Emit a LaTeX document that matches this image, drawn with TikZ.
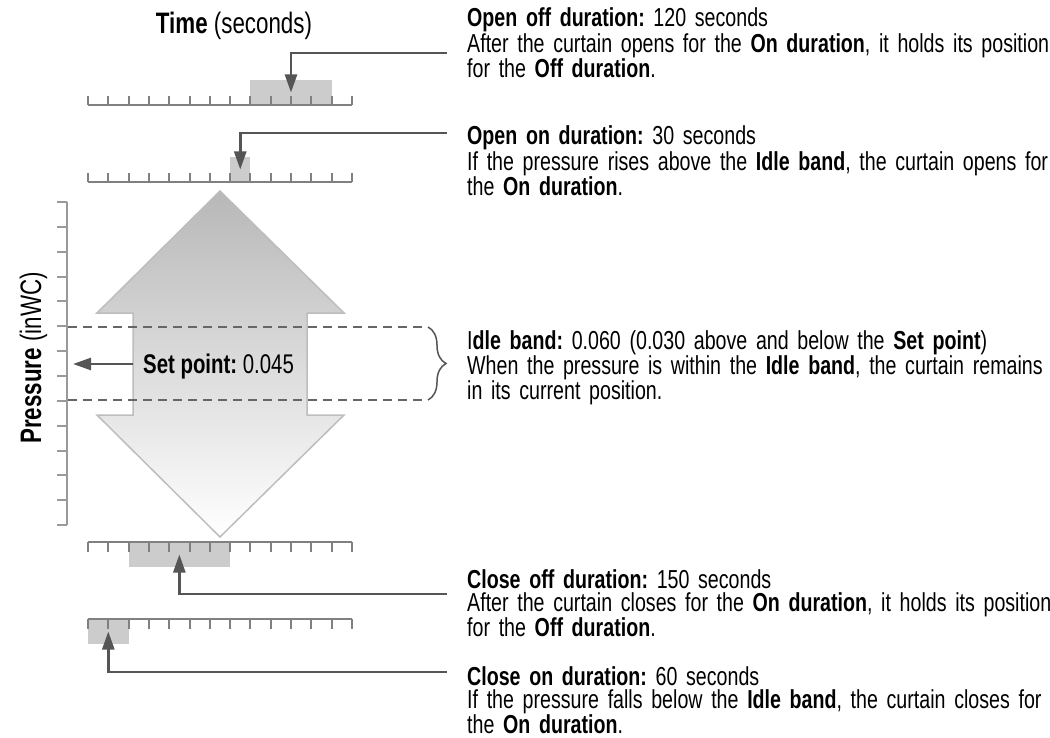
\documentclass[tikz,border=0pt]{standalone}
\usepackage{fontspec}
\setmainfont[FakeStretch=0.755]{Liberation Sans}
\usetikzlibrary{arrows.meta,decorations.pathreplacing}
\definecolor{tickgray}{HTML}{808080}
\definecolor{bargray}{HTML}{CCCCCC}
\definecolor{leadgray}{HTML}{555555}
\definecolor{bandgray}{HTML}{666666}
\definecolor{outgray}{HTML}{BDBDBD}
\frenchspacing
\setlength{\lineskiplimit}{-50pt}

\begin{document}
\begin{tikzpicture}[x=1pt,y=-1pt,
  ruler/.style={draw=tickgray, line width=2pt},
  bar/.style={fill=bargray, inner sep=0pt, minimum height=25pt},
  lead/.style={draw=leadgray, line width=2.5pt, -{Triangle[length=18pt,width=12pt]}},
  desc/.style={anchor=base west, inner sep=0pt, text width=700pt, align=left, font=\fontsize{26}{23}\selectfont},
  band/.style={draw=bandgray, line width=2pt, dash pattern=on 9pt off 6pt}]
	\useasboundingbox (0,0) rectangle (1050,738);

	% up/down arrow
	\draw[outgray, line width=1.5pt, top color=black!28, bottom color=white]
		(220,191) -- (344,313) -- (307,313) -- (307,415) -- (344,415) -- (220,537)
		-- (97,415) -- (133,415) -- (133,313) -- (97,313) -- cycle;

	% time bars
	\node[bar, minimum width=81.2pt] (openoffbar) at (291,92.5) {};
	\node[bar, minimum width=20.3pt] (openonbar) at (240.25,169.5) {};
	\node[bar, minimum width=101.5pt] (closeoffbar) at (179.35,554.5) {};
	\node[bar, minimum width=40.6pt] (closeonbar) at (108.3,631.5) {};

	% time rulers
	\foreach \y/\d in {105/-9,182/-9,542/10,619/10} {
		\draw[ruler] (88,\y) -- (352,\y);
		\foreach \i in {0,...,13} \draw[ruler] (88+\i*20.3,\y) -- ++(0,\d);
	}

	% pressure axis
	\draw[ruler, draw=tickgray!80] (67,202) -- (67,525);
	\foreach \i in {0,...,13} \draw[ruler, draw=tickgray!80] (67,202+\i*24.85) -- ++(-10,0);

	\node[font=\fontsize{29.6}{28}\selectfont, anchor=base] (time) at (234,34) {\textbf{Time} (seconds)};
	\node[font=\fontsize{29.6}{28}\selectfont, rotate=90, anchor=base] (pressure) at (41,358) {\textbf{Pressure} (inWC)};

	% idle band
	\coordinate (bandtop) at (68,327);
	\coordinate (bandbot) at (68,400);
	\draw[band] (bandtop) -- (425,327);
	\draw[band] (bandbot) -- (425,400);
	\draw[leadgray, line width=1.5pt, decorate, decoration={brace, amplitude=18pt}] (428,327) -- (428,400);

	\node[font=\fontsize{27}{25}\selectfont, anchor=base west, inner sep=0pt] (setpoint) at (143,373) {\textbf{Set point:} 0.045};
	\coordinate (spfrom) at (133,364);
	\coordinate (sptip) at (73,364);
	\draw[lead] (spfrom) -- (sptip);

	% descriptions
	\node[desc] (openoff) at (467,27) {\textbf{Open off duration:} 120 seconds\\After the curtain opens for the \textbf{On duration}, it holds its position\\for the \textbf{Off duration}.};
	\node[desc] (openon) at (467,145) {\textbf{Open on duration:} 30 seconds\\If the pressure rises above the \textbf{Idle band}, the curtain opens for\\the \textbf{On duration}.};
	\node[desc] (idle) at (467,349) {I\textbf{dle band:} 0.060 (0.030 above and below the \textbf{Set point})\\When the pressure is within the \textbf{Idle band}, the curtain remains\\in its current position.};
	\node[desc] (closeoff) at (467,588) {\textbf{Close off duration:} 150 seconds\\After the curtain closes for the \textbf{On duration}, it holds its position\\for the \textbf{Off duration}.};
	\node[desc] (closeon) at (467,685) {\textbf{Close on duration:} 60 seconds\\If the pressure falls below the \textbf{Idle band}, the curtain closes for\\the \textbf{On duration}.};

	% leaders
	\coordinate (e1) at (447,53);
	\coordinate (e2) at (447,133);
	\coordinate (e4) at (447,594);
	\coordinate (e5) at (447,672);
	\draw[lead] (e1) -| (openoffbar.center);
	\draw[lead] (e2) -| (openonbar.center);
	\draw[lead] (e4) -| (closeoffbar.center);
	\draw[lead] (e5) -| (closeonbar.center);
\end{tikzpicture}
\end{document}
